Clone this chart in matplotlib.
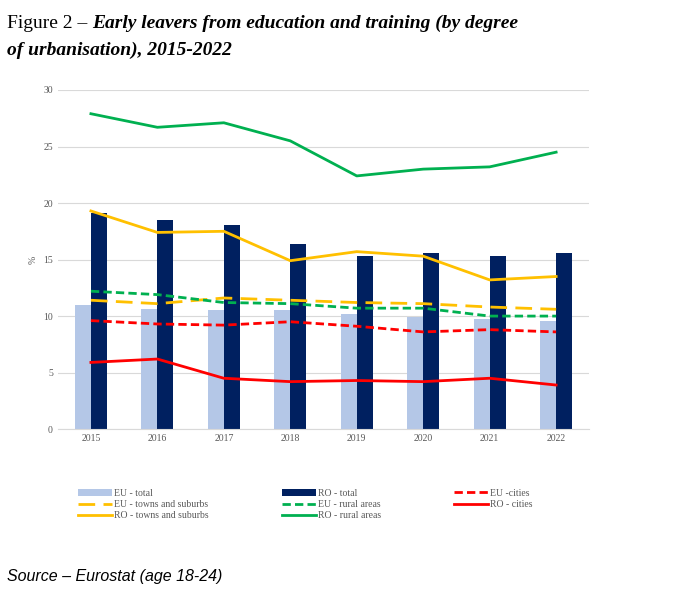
import matplotlib
matplotlib.use('Agg')
import matplotlib.pyplot as plt
import numpy as np

years = ['2015', '2016', '2017', '2018', '2019', '2020', '2021', '2022']
eu_total = [11.0, 10.6, 10.5, 10.5, 10.2, 9.9, 9.7, 9.6]
ro_total = [19.1, 18.5, 18.1, 16.4, 15.3, 15.6, 15.3, 15.6]
eu_cities = [9.6, 9.3, 9.2, 9.5, 9.1, 8.6, 8.8, 8.6]
eu_towns = [11.4, 11.1, 11.6, 11.4, 11.2, 11.1, 10.8, 10.6]
eu_rural = [12.2, 11.9, 11.2, 11.1, 10.7, 10.7, 10.0, 10.0]
ro_cities = [5.9, 6.2, 4.5, 4.2, 4.3, 4.2, 4.5, 3.9]
ro_towns = [19.3, 17.4, 17.5, 14.9, 15.7, 15.3, 13.2, 13.5]
ro_rural = [27.9, 26.7, 27.1, 25.5, 22.4, 23.0, 23.2, 24.5]

plt.rcParams['font.family'] = ['Liberation Serif', 'DejaVu Serif']

fig = plt.figure(figsize=(6.95, 5.96), dpi=100)
ax = fig.add_axes([0.083, 0.28, 0.765, 0.569])

x = np.arange(len(years))
w = 0.24
h_eu = ax.bar(x - w/2, eu_total, w, color='#b4c7e7', label='EU - total', zorder=2)
h_ro = ax.bar(x + w/2, ro_total, w, color='#002060', label='RO - total', zorder=2)
lw = 2
h1, = ax.plot(x, eu_cities, color='#ff0000', ls=(0, (3, 1.5)), lw=lw, label='EU -cities', zorder=3)
h2, = ax.plot(x, eu_towns, color='#ffc000', ls=(0, (6, 3)), lw=lw, label='EU - towns and suburbs', zorder=3)
h3, = ax.plot(x, eu_rural, color='#00b050', ls=(0, (3, 1.5)), lw=lw, label='EU - rural areas', zorder=3)
h4, = ax.plot(x, ro_cities, color='#ff0000', lw=lw, label='RO - cities', zorder=3)
h5, = ax.plot(x, ro_towns, color='#ffc000', lw=lw, label='RO - towns and suburbs', zorder=3)
h6, = ax.plot(x, ro_rural, color='#00b050', lw=lw, label='RO - rural areas', zorder=3)

ax.set_ylim(0, 30)
ax.set_xlim(-0.5, len(years) - 0.5)
ax.set_yticks(range(0, 31, 5))
ax.set_xticks(x)
ax.set_xticklabels(years)
ax.tick_params(labelsize=7, colors='#595959', length=0)
ax.set_ylabel('%', fontsize=7, color='#595959')
ax.grid(axis='y', color='#d9d9d9', lw=0.8, zorder=0)
for s in ['top', 'right', 'left']:
    ax.spines[s].set_visible(False)
ax.spines['bottom'].set_color('#d9d9d9')

handles = [h_eu, h2, h5, h_ro, h3, h6, h1, h4]
fig.legend(handles=handles, labels=[h.get_label() for h in handles], ncol=3,
           loc='upper left', bbox_to_anchor=(0.1, 0.195), frameon=False,
           fontsize=7, labelcolor='#595959', handlelength=3.5, handletextpad=0.2,
           columnspacing=7.5, labelspacing=0.25)

t0 = fig.text(0.01, 0.975, 'Figure 2 – ', fontsize=14, va='top')
fig.canvas.draw()
bb = t0.get_window_extent(fig.canvas.get_renderer())
x1 = bb.x1 / fig.bbox.width
fig.text(x1, 0.975, 'Early leavers from education and training (by degree', fontsize=14,
         style='italic', weight='bold', va='top')
fig.text(0.01, 0.93, 'of urbanisation), 2015-2022', fontsize=14, style='italic',
         weight='bold', va='top')
fig.text(0.01, 0.025, 'Source – Eurostat (age 18-24)', fontsize=11.5, style='italic',
         family=['Liberation Sans', 'DejaVu Sans'])

fig.savefig('out.png', dpi=100)
